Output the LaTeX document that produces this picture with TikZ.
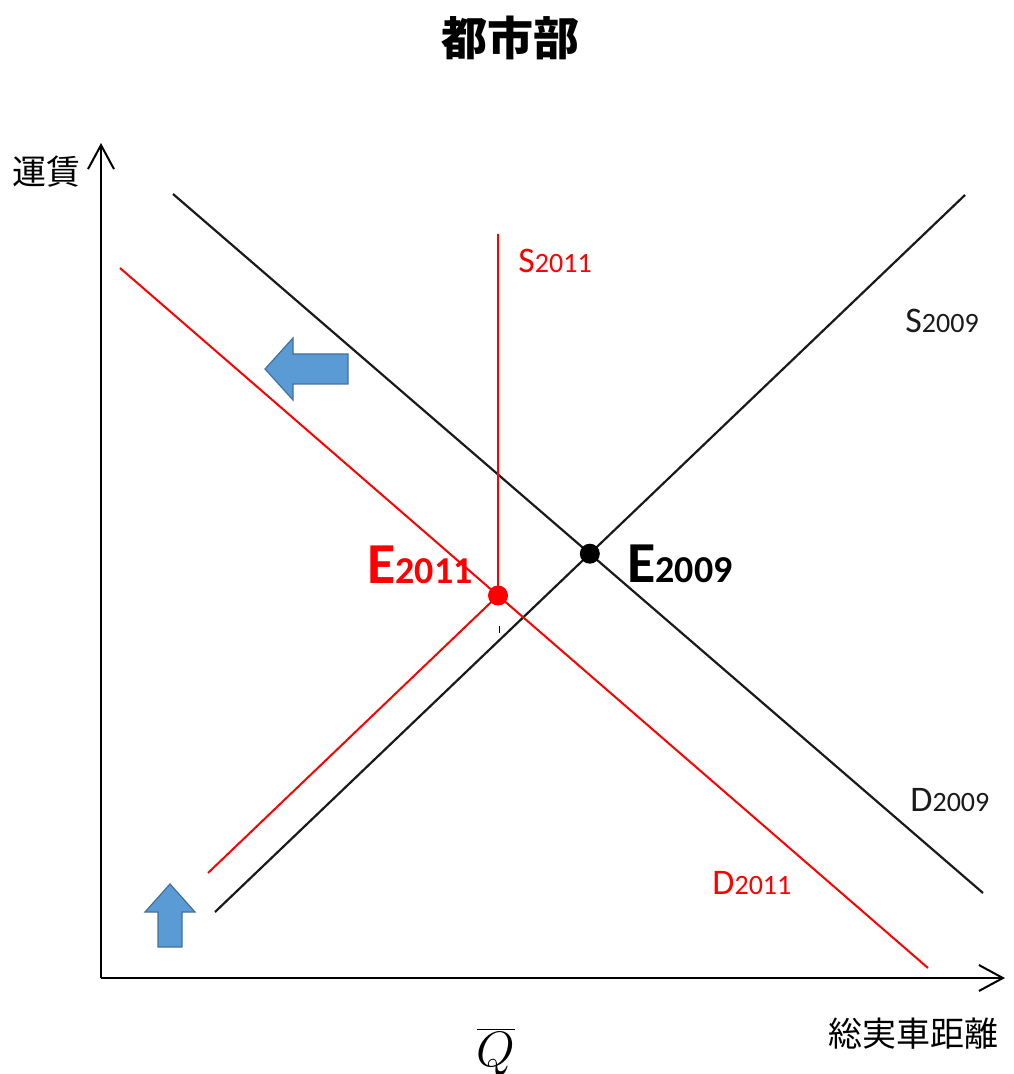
\documentclass[tikz,border=0pt]{standalone}
\usepackage{fontspec}
\newfontfamily\carl{Carlito}
\newfontfamily\cjk{Noto Sans CJK JP}
\usetikzlibrary{arrows.meta}
\definecolor{arrowblue}{HTML}{5B9BD5}
\definecolor{arrowedge}{HTML}{41719C}
\definecolor{curvered}{HTML}{FF0000}
\definecolor{curveblack}{HTML}{1A1A1A}
\newcommand\curvelab[2]{{\fontsize{18}{20}\selectfont #1}{\fontsize{14}{16}\selectfont #2}}
\newcommand\eqlab[2]{{\bfseries\fontsize{29}{31}\selectfont #1}{\bfseries\fontsize{19}{21}\selectfont #2}}
\begin{document}
\begin{tikzpicture}[x=0.5pt,y=-0.5pt,
  axis/.style={line width=1pt,draw=black,-{Straight Barb[length=12pt,width=13pt,line width=1pt]}},
  blackcurve/.style={line width=1.1pt,draw=curveblack},
  redcurve/.style={line width=1pt,draw=curvered},
  curvelabel/.style={font=\carl,anchor=base west,inner sep=0pt},
  shiftarrow/.style={fill=arrowblue,draw=arrowedge,line width=0.6pt,line join=miter},
  eqdot/.style={circle,inner sep=0pt}]
\useasboundingbox (0,0) rectangle (1013,1074);
% axes
\coordinate (O) at (101,978);
\coordinate (ytip) at (101,143);
\coordinate (xtip) at (1005,978);
\draw[axis] (O) -- (ytip);
\draw[axis] (O) -- (xtip);
% curve end points
\coordinate (D1s) at (173,194);
\coordinate (D1e) at (983,893);
\coordinate (S1s) at (215,912);
\coordinate (S1e) at (965,195);
\coordinate (D2s) at (120,268);
\coordinate (D2e) at (928,968);
\coordinate (S2s) at (208,873);
\coordinate (S2top) at (498,234);
\coordinate (E1) at (intersection of D1s--D1e and S1s--S1e);
\coordinate (E2) at (intersection of D2s--D2e and S2top--{498,1000});
\coordinate (tickA) at (499,626);
\coordinate (tickB) at (499,633);
% curves
\draw[blackcurve] (D1s) -- (D1e);
\draw[blackcurve] (S1s) -- (S1e);
\draw[redcurve] (D2s) -- (D2e);
\draw[redcurve] (S2s) -- (E2) -- (S2top);
\draw[line width=0.5pt] (tickA) -- (tickB);
% equilibrium dots
\node[eqdot,fill=black,minimum size=10pt] (E1dot) at (E1) {};
\node[eqdot,fill=curvered,minimum size=10pt] (E2dot) at (E2) {};
% shift arrows
\draw[shiftarrow] (265,369) -- (293,338) -- (293,354) -- (348,354) -- (348,384) -- (293,384) -- (293,400) -- cycle;
\draw[shiftarrow] (170,884) -- (195,912) -- (182,912) -- (182,947) -- (158,947) -- (158,912) -- (145,912) -- cycle;
% labels
\node[curvelabel,text=curvered] (S2lab) at (518,273) {\curvelab{S}{2011}};
\node[curvelabel,text=curveblack] (S1lab) at (905,333) {\curvelab{S}{2009}};
\node[curvelabel,text=curveblack] (D1lab) at (910,811) {\curvelab{D}{2009}};
\node[curvelabel,text=curvered] (D2lab) at (712,894) {\curvelab{D}{2011}};
\node[curvelabel,text=curvered] (E2lab) at (367,583) {\eqlab{E}{2011}};
\node[curvelabel,text=black] (E1lab) at (627,582) {\eqlab{E}{2009}};
% texts
\node[font=\cjk\bfseries\fontsize{23}{25}\selectfont,inner sep=0pt] (title) at (510,38) {都市部};
\node[font=\cjk\fontsize{17}{19}\selectfont,inner sep=0pt] (ylab) at (46,172) {運賃};
\node[font=\cjk\fontsize{17}{19}\selectfont,inner sep=0pt] (xlab) at (913,1034) {総実車距離};
\node[anchor=base,inner sep=0pt,font=\fontsize{25}{27}\selectfont] (qbar) at (496,1066) {$\overline{Q}$};
\end{tikzpicture}
\end{document}
